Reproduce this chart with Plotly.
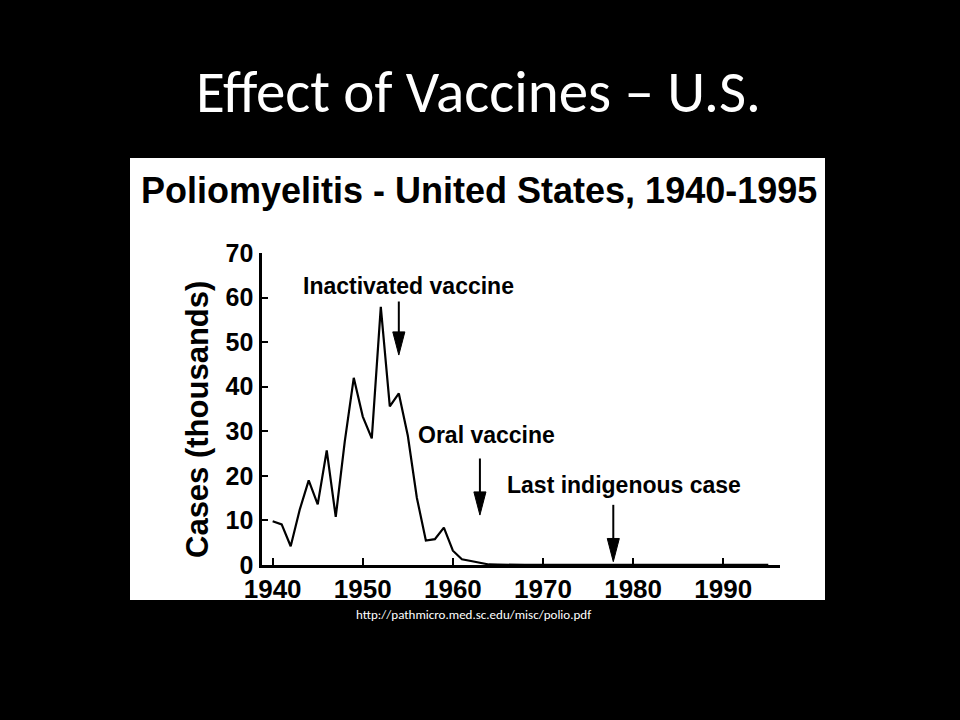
import plotly.graph_objects as go

# ---- data (cases in thousands) ----
years = list(range(1940, 1996))
cases = [9.8, 9.1, 4.2, 12.4, 19.0, 13.6, 25.7, 10.8, 27.7, 42.0,
         33.3, 28.4, 57.9, 35.6, 38.5, 29.0, 15.1, 5.5, 5.8, 8.4,
         3.2, 1.3, 0.9, 0.45, 0.12, 0.07, 0.11, 0.04, 0.05, 0.02,
         0.03, 0.02, 0.01, 0.01, 0.01, 0.01, 0.01, 0.01, 0.01, 0.01,
         0.01, 0.01, 0.01, 0.01, 0.01, 0.01, 0.01, 0.01, 0.01, 0.01,
         0.01, 0.01, 0.01, 0.01, 0.01, 0.01]

x_ticks = [1940, 1950, 1960, 1970, 1980, 1990]
y_ticks = [0, 10, 20, 30, 40, 50, 60, 70]

arrow_labels = ["Inactivated vaccine", "Oral vaccine", "Last indigenous case"]
arrow_x = [1954.0, 1963.0, 1977.8]
arrow_top = [59.1, 23.9, 13.5]
arrow_tip = [47.1, 11.2, 0.75]
label_x = [1955.1, 1963.7, 1978.95]
label_y = [62.6, 29.2, 18.0]

slide_title = "Effect of Vaccines – U.S."
chart_title = "Poliomyelitis - United States, 1940-1995"
y_title = "Cases (thousands)"
source = "http://pathmicro.med.sc.edu/misc/polio.pdf"

W, H = 960, 720
BOLD = "Liberation Sans, Arial, Helvetica, sans-serif"


def px(xp, yp):
    return xp / W, (H - yp) / H


fig = go.Figure()
fig.add_trace(go.Scatter(x=years, y=cases, mode="lines",
                         line=dict(color="black", width=2.2),
                         hoverinfo="skip", showlegend=False))

# white picture box
bx0, by0 = px(130, 600)
bx1, by1 = px(825, 158)
shapes = [dict(type="rect", xref="paper", yref="paper", x0=bx0, y0=by0,
               x1=bx1, y1=by1, fillcolor="white", line=dict(width=0),
               layer="below")]

# arrows (head size in data units)
head_len = 5.2
head_hw = 0.67
for xa, yt, yk in zip(arrow_x, arrow_top, arrow_tip):
    shapes.append(dict(type="line", xref="x", yref="y", x0=xa, x1=xa,
                       y0=yt, y1=yk + head_len * 0.5,
                       line=dict(color="black", width=2)))
    shapes.append(dict(type="path", xref="x", yref="y",
                       path=f"M {xa - head_hw},{yk + head_len} L {xa + head_hw},{yk + head_len} L {xa},{yk} Z",
                       fillcolor="black", line=dict(color="black", width=1)))

annotations = []
for t, xl, yl in zip(arrow_labels, label_x, label_y):
    annotations.append(dict(text=t, x=xl, y=yl, xref="x", yref="y",
                            showarrow=False, xanchor="center", yanchor="middle",
                            font=dict(family=BOLD, size=23, color="black", weight="bold")))

ax_, ay_ = px(478, 92)
annotations.append(dict(text=slide_title, x=ax_, y=ay_, xref="paper", yref="paper",
                        showarrow=False, xanchor="center", yanchor="middle",
                        font=dict(family="Carlito, Calibri, Lato, sans-serif", size=59, color="white")))
cx, cy = px(479, 191)
annotations.append(dict(text=chart_title, x=cx, y=cy, xref="paper", yref="paper",
                        showarrow=False, xanchor="center", yanchor="middle",
                        font=dict(family=BOLD, size=36, color="black", weight="bold")))
yx, yy = px(198, 420)
annotations.append(dict(text=y_title, x=yx, y=yy, xref="paper", yref="paper",
                        showarrow=False, xanchor="center", yanchor="middle", textangle=-90,
                        font=dict(family=BOLD, size=31, color="black", weight="bold")))
sx, sy = px(473.5, 614)
annotations.append(dict(text=source, x=sx, y=sy, xref="paper", yref="paper",
                        showarrow=False, xanchor="center", yanchor="middle",
                        font=dict(family="Carlito, Calibri, Open Sans, sans-serif", size=13, color="white")))

x_l, y_b = px(262.3, 565)
x_r, y_t = px(780, 253)

fig.update_layout(
    width=W, height=H,
    margin=dict(l=0, r=0, t=0, b=0),
    paper_bgcolor="black", plot_bgcolor="white",
    shapes=shapes, annotations=annotations,
    xaxis=dict(domain=[x_l, x_r], range=[1938.85, 1996.3], tickvals=x_ticks,
               ticks="inside", ticklen=7, tickwidth=2, tickcolor="black",
               showline=True, linecolor="black", linewidth=3, showgrid=False,
               zeroline=False, automargin=False, ticklabelstandoff=-1,
               tickfont=dict(family=BOLD, size=26, color="black", weight="bold")),
    yaxis=dict(domain=[y_b, y_t], range=[0, 70], tickvals=y_ticks,
               ticks="inside", ticklen=6, tickwidth=2, tickcolor="black",
               showline=True, linecolor="black", linewidth=3, showgrid=False,
               zeroline=False, automargin=False, ticklabelstandoff=1,
               tickfont=dict(family=BOLD, size=25, color="black", weight="bold")),
)

fig.write_html("out.html", config={"displayModeBar": False},
               post_script="document.body.style.margin='0';document.body.style.background='black';")
